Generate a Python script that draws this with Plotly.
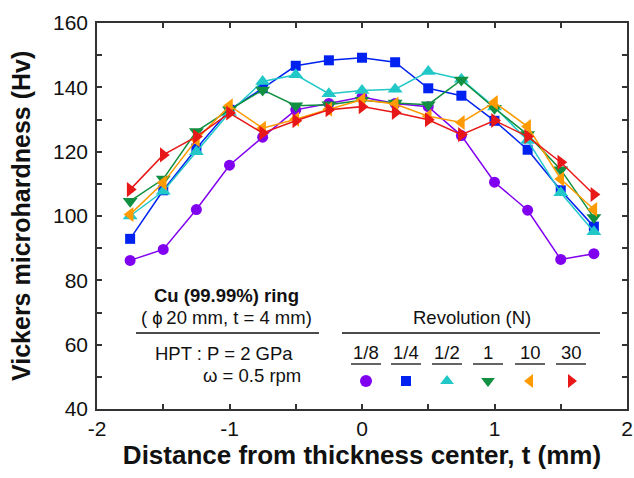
import plotly.graph_objects as go

# ---- data ----
t = [-1.75, -1.5, -1.25, -1.0, -0.75, -0.5, -0.25, 0.0, 0.25, 0.5, 0.75, 1.0, 1.25, 1.5, 1.75]
hv_1_8 = [86.2, 89.6, 102.0, 115.8, 124.5, 133.0, 135.0, 137.0, 135.0, 134.0, 125.0, 110.5, 101.8, 86.5, 88.3]
hv_1_4 = [92.9, 108.0, 121.0, 133.0, 139.7, 146.7, 148.4, 149.2, 147.8, 139.7, 137.4, 129.6, 120.6, 108.0, 96.7]
hv_1_2 = [100.0, 107.7, 120.0, 132.2, 141.8, 143.9, 138.0, 139.0, 139.4, 144.9, 142.5, 133.9, 123.5, 107.2, 95.1]
hv_1 = [104.6, 111.5, 126.3, 133.0, 139.2, 134.3, 134.6, 136.0, 135.1, 134.6, 142.3, 133.5, 125.3, 114.4, 99.5]
hv_10 = [100.5, 110.3, 123.7, 134.3, 127.3, 130.1, 133.2, 136.1, 134.8, 131.0, 129.1, 135.3, 127.8, 111.5, 102.0]
hv_30 = [108.2, 119.0, 124.7, 132.0, 125.8, 129.6, 133.0, 134.0, 132.2, 129.9, 125.3, 129.7, 124.7, 116.7, 106.7]

labels = ["1/8", "1/4", "1/2", "1", "10", "30"]
series = [hv_1_8, hv_1_4, hv_1_2, hv_1, hv_10, hv_30]
colors = ["#8000F0", "#0022F0", "#22C8C8", "#109040", "#FF9A00", "#E81818"]
symbols = ["circle", "square", "triangle-up", "triangle-down", "triangle-left", "triangle-right"]
sizes = [11, 10, 13, 13, 13, 13]

x_ticks = [-2, -1.5, -1, -0.5, 0, 0.5, 1, 1.5, 2]
x_ticktext = ["-2", "", "-1", "", "0", "", "1", "", "2"]
y_ticks = [40, 50, 60, 70, 80, 90, 100, 110, 120, 130, 140, 150, 160]
y_ticktext = ["40", "", "60", "", "80", "", "100", "", "120", "", "140", "", "160"]

W, H = 634, 478
L, R, T, B = 97, 7, 23, 69
pw, ph = W - L - R, H - T - B


def px(x):
    return (x - L) / pw


def py(y):
    return 1 - (y - T) / ph


fig = go.Figure()
for name, vals, c, s, sz in zip(labels, series, colors, symbols, sizes):
    fig.add_trace(go.Scatter(
        x=t, y=vals, mode="lines+markers", name=name,
        line=dict(color=c, width=1.5),
        marker=dict(symbol=s, size=sz, color=c),
        showlegend=False,
    ))

# legend-like key placed on an overlay axis in paper fractions
key_px = [366, 406, 447, 488, 530, 571]
key_x = [px(v) for v in key_px]
for i, (name, c, s) in enumerate(zip(labels, colors, symbols)):
    fig.add_trace(go.Scatter(
        x=[key_x[i]], y=[py(381)], mode="markers", xaxis="x2", yaxis="y2",
        marker=dict(symbol=s, size=12 if s != "square" else 10, color=c),
        showlegend=False, hoverinfo="skip",
    ))

font = "Arial, Liberation Sans, sans-serif"
axis_common = dict(
    showgrid=False, zeroline=False, showline=True, linecolor="#333333", linewidth=1.5,
    mirror="allticks", ticks="inside", ticklen=5, tickwidth=1.5, tickcolor="#333333",
    tickfont=dict(family=font, size=21, color="#111111"),
)

fig.update_layout(
    width=W, height=H,
    margin=dict(l=L, r=R, t=T, b=B, autoexpand=False),
    paper_bgcolor="white", plot_bgcolor="white",
    xaxis=dict(range=[-2, 2], tickmode="array", tickvals=x_ticks, ticktext=x_ticktext,
               title=dict(text="<b>Distance from thickness center, t (mm)</b>",
                          font=dict(family=font, size=26, color="#111111"), standoff=7),
               **axis_common),
    yaxis=dict(range=[40, 160], tickmode="array", tickvals=y_ticks, ticktext=y_ticktext,
               ticklabelstandoff=3, **axis_common),
    xaxis2=dict(range=[0, 1], overlaying="x", visible=False, fixedrange=True),
    yaxis2=dict(range=[0, 1], overlaying="y", visible=False, fixedrange=True),
)

# y axis title as a rotated annotation for precise placement
fig.add_annotation(text="<b>Vickers microhardness (Hv)</b>", x=px(21), y=py(216),
                   xref="paper", yref="paper", xanchor="center", yanchor="middle",
                   textangle=-90, showarrow=False,
                   font=dict(family=font, size=25, color="#111111"))

ann_font = dict(family=font, size=18.5, color="#111111")
annots = [
    ("<b>Cu (99.99%) ring</b>", 226, 295, "center"),
    ("( \u03d5\u200920 mm, t = 4 mm)", 226, 317, "center"),
    ("HPT : P = 2 GPa", 153, 353, "left"),
    ("\u03c9 = 0.5 rpm", 201, 375, "left"),
    ("Revolution (N)", 472, 317, "center"),
]
for text, x, y, anchor in annots:
    fig.add_annotation(text=text, x=px(x), y=py(y), xref="paper", yref="paper",
                       xanchor=anchor, yanchor="middle", showarrow=False, font=ann_font)
for name, kx in zip(labels, key_px):
    fig.add_annotation(text=name, x=px(kx), y=py(352), xref="paper", yref="paper",
                       xanchor="center", yanchor="middle", showarrow=False, font=ann_font)
    fig.add_shape(type="line", xref="paper", yref="paper",
                  x0=px(kx - 15), x1=px(kx + 15), y0=py(364), y1=py(364),
                  line=dict(color="#111111", width=1.3))

for x0, x1 in [(136, 319), (342, 600)]:
    fig.add_shape(type="line", xref="paper", yref="paper",
                  x0=px(x0), x1=px(x1), y0=py(333), y1=py(333),
                  line=dict(color="#111111", width=1.3))

fig.write_html("out.html")
